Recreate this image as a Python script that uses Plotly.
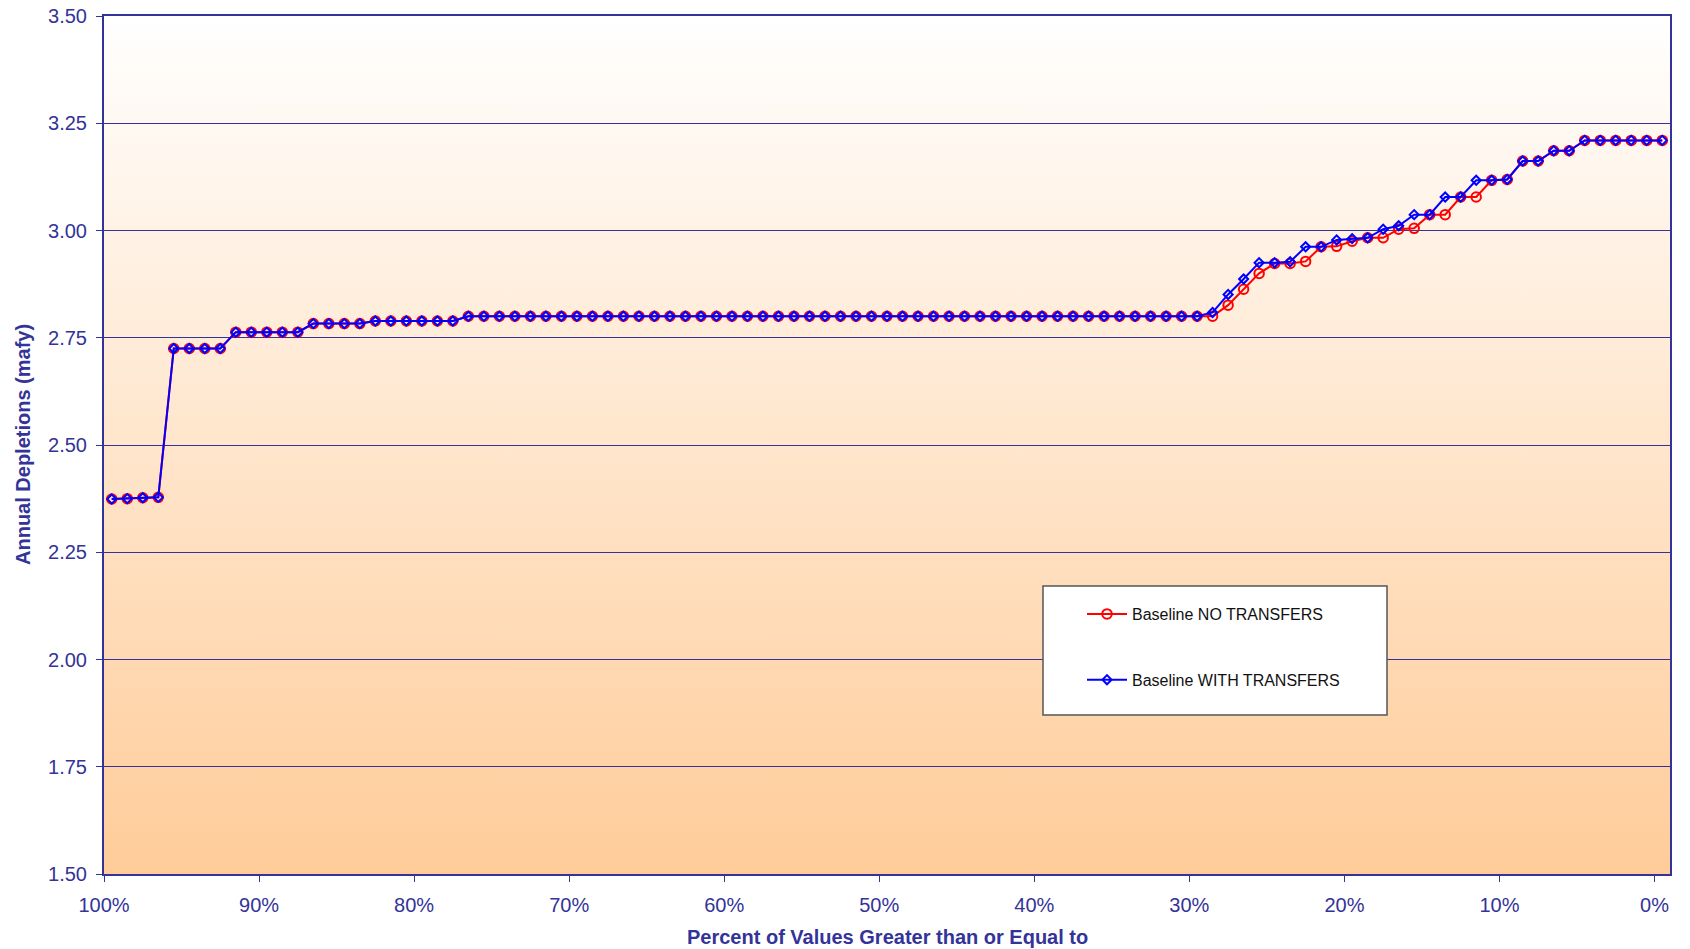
import base64
import plotly.graph_objects as go

# Exceedance position of each ranked year (percent of values greater than or equal to)
exceedance_pct = [99.5 - i for i in range(101)]

# Annual depletions (mafy), ranked low to high
no_transfers = (
    [2.374, 2.375, 2.377, 2.378]
    + [2.725] * 4
    + [2.763] * 5
    + [2.783] * 4
    + [2.789] * 6
    + [2.800] * 49
    + [2.826, 2.863, 2.900, 2.923, 2.923, 2.928, 2.962, 2.963, 2.975, 2.983,
       2.983, 3.003, 3.005, 3.037, 3.037, 3.078, 3.078, 3.117, 3.119,
       3.162, 3.162, 3.186, 3.186]
    + [3.210] * 7
)

with_transfers = (
    [2.374, 2.375, 2.377, 2.378]
    + [2.725] * 4
    + [2.763] * 5
    + [2.783] * 4
    + [2.789] * 6
    + [2.800] * 48
    + [2.809, 2.851, 2.887, 2.925, 2.925, 2.927, 2.962, 2.962, 2.978, 2.981,
       2.983, 3.003, 3.011, 3.037, 3.037, 3.078, 3.078, 3.117, 3.117, 3.119,
       3.162, 3.162, 3.186, 3.186]
    + [3.210] * 7
)

y_ticks = [1.50, 1.75, 2.00, 2.25, 2.50, 2.75, 3.00, 3.25, 3.50]
x_ticks = [100, 90, 80, 70, 60, 50, 40, 30, 20, 10, 0]
x_tick_labels = [f"{t}%" for t in x_ticks]

AXIS = "#333399"
FONT = "Arial, Liberation Sans, sans-serif"

# plot area in pixels
L, R, T, B = 104, 1670, 16, 874
W, H = 1690, 949
PW, PH = R - L, B - T

# vertical white-to-peach background for the plot area
svg = (
    '<svg xmlns="http://www.w3.org/2000/svg" width="10" height="100" preserveAspectRatio="none">'
    '<defs><linearGradient id="g" x1="0" y1="0" x2="0" y2="1">'
    '<stop offset="0" stop-color="#FFFFFF"/><stop offset="1" stop-color="#FFCC99"/>'
    '</linearGradient></defs><rect width="10" height="100" fill="url(#g)"/></svg>'
)
bg_src = "data:image/svg+xml;base64," + base64.b64encode(svg.encode()).decode()

fig = go.Figure()
fig.add_trace(go.Scatter(
    x=exceedance_pct, y=no_transfers, mode="lines+markers",
    name="Baseline NO TRANSFERS", legendgroup="a",
    line=dict(color="#FF0000", width=2),
    marker=dict(symbol="circle-open", size=9.5, color="#FF0000", line=dict(width=2)),
))
fig.add_trace(go.Scatter(
    x=exceedance_pct, y=with_transfers, mode="lines+markers",
    name="Baseline WITH TRANSFERS", legendgroup="b",
    line=dict(color="#0000FF", width=2),
    marker=dict(symbol="diamond-open", size=7, color="#0000FF", line=dict(width=2)),
))

fig.add_layout_image(dict(
    source=bg_src, xref="x domain", yref="y domain", x=0, y=1,
    sizex=1, sizey=1, sizing="stretch", xanchor="left", yanchor="top",
    layer="below",
))

# legend panel
fig.add_shape(type="rect", xref="paper", yref="paper",
              x0=(1043 - L) / PW, x1=(1387 - L) / PW,
              y0=(B - 715) / PH, y1=(B - 586) / PH,
              fillcolor="white", line=dict(color="#555555", width=1.5),
              layer="above")

# axis titles
fig.add_annotation(text="<b>Percent of Values Greater than or Equal to</b>",
                   xref="paper", yref="paper", x=0.5, y=(B - 937) / PH,
                   xanchor="center", yanchor="middle", showarrow=False,
                   font=dict(family=FONT, size=20, color=AXIS))
fig.add_annotation(text="<b>Annual Depletions (mafy)</b>",
                   xref="paper", yref="paper", x=(23 - L) / PW, y=0.5,
                   xanchor="center", yanchor="middle", showarrow=False,
                   textangle=-90,
                   font=dict(family=FONT, size=20, color=AXIS))

fig.update_layout(
    width=W, height=H,
    margin=dict(l=L, r=W - R, t=T, b=H - B),
    paper_bgcolor="white",
    plot_bgcolor="rgba(0,0,0,0)",
    font=dict(family=FONT, color=AXIS, size=20),
    showlegend=True,
    legend=dict(
        x=(1082 - L) / PW, y=(B - 597) / PH,
        xanchor="left", yanchor="top",
        bgcolor="rgba(0,0,0,0)", borderwidth=0,
        font=dict(family=FONT, size=16, color="#111111"),
        tracegroupgap=42,
        itemwidth=40,
    ),
    xaxis=dict(
        range=[100, -1], tickvals=x_ticks, ticktext=x_tick_labels,
        showgrid=False, zeroline=False, automargin=False,
        showline=True, linecolor=AXIS, linewidth=2, mirror=True,
        ticks="outside", ticklen=6, tickcolor=AXIS, tickwidth=1,
        ticklabelstandoff=6,
        tickfont=dict(family=FONT, size=20, color=AXIS),
    ),
    yaxis=dict(
        range=[1.5, 3.5], tickvals=y_ticks, tickformat=".2f",
        showgrid=True, gridcolor=AXIS, gridwidth=1, zeroline=False,
        automargin=False,
        showline=True, linecolor=AXIS, linewidth=2, mirror=True,
        ticks="outside", ticklen=6, tickcolor=AXIS, tickwidth=1,
        ticklabelstandoff=5,
        tickfont=dict(family=FONT, size=20, color=AXIS),
    ),
)

fig.write_html("out.html")
